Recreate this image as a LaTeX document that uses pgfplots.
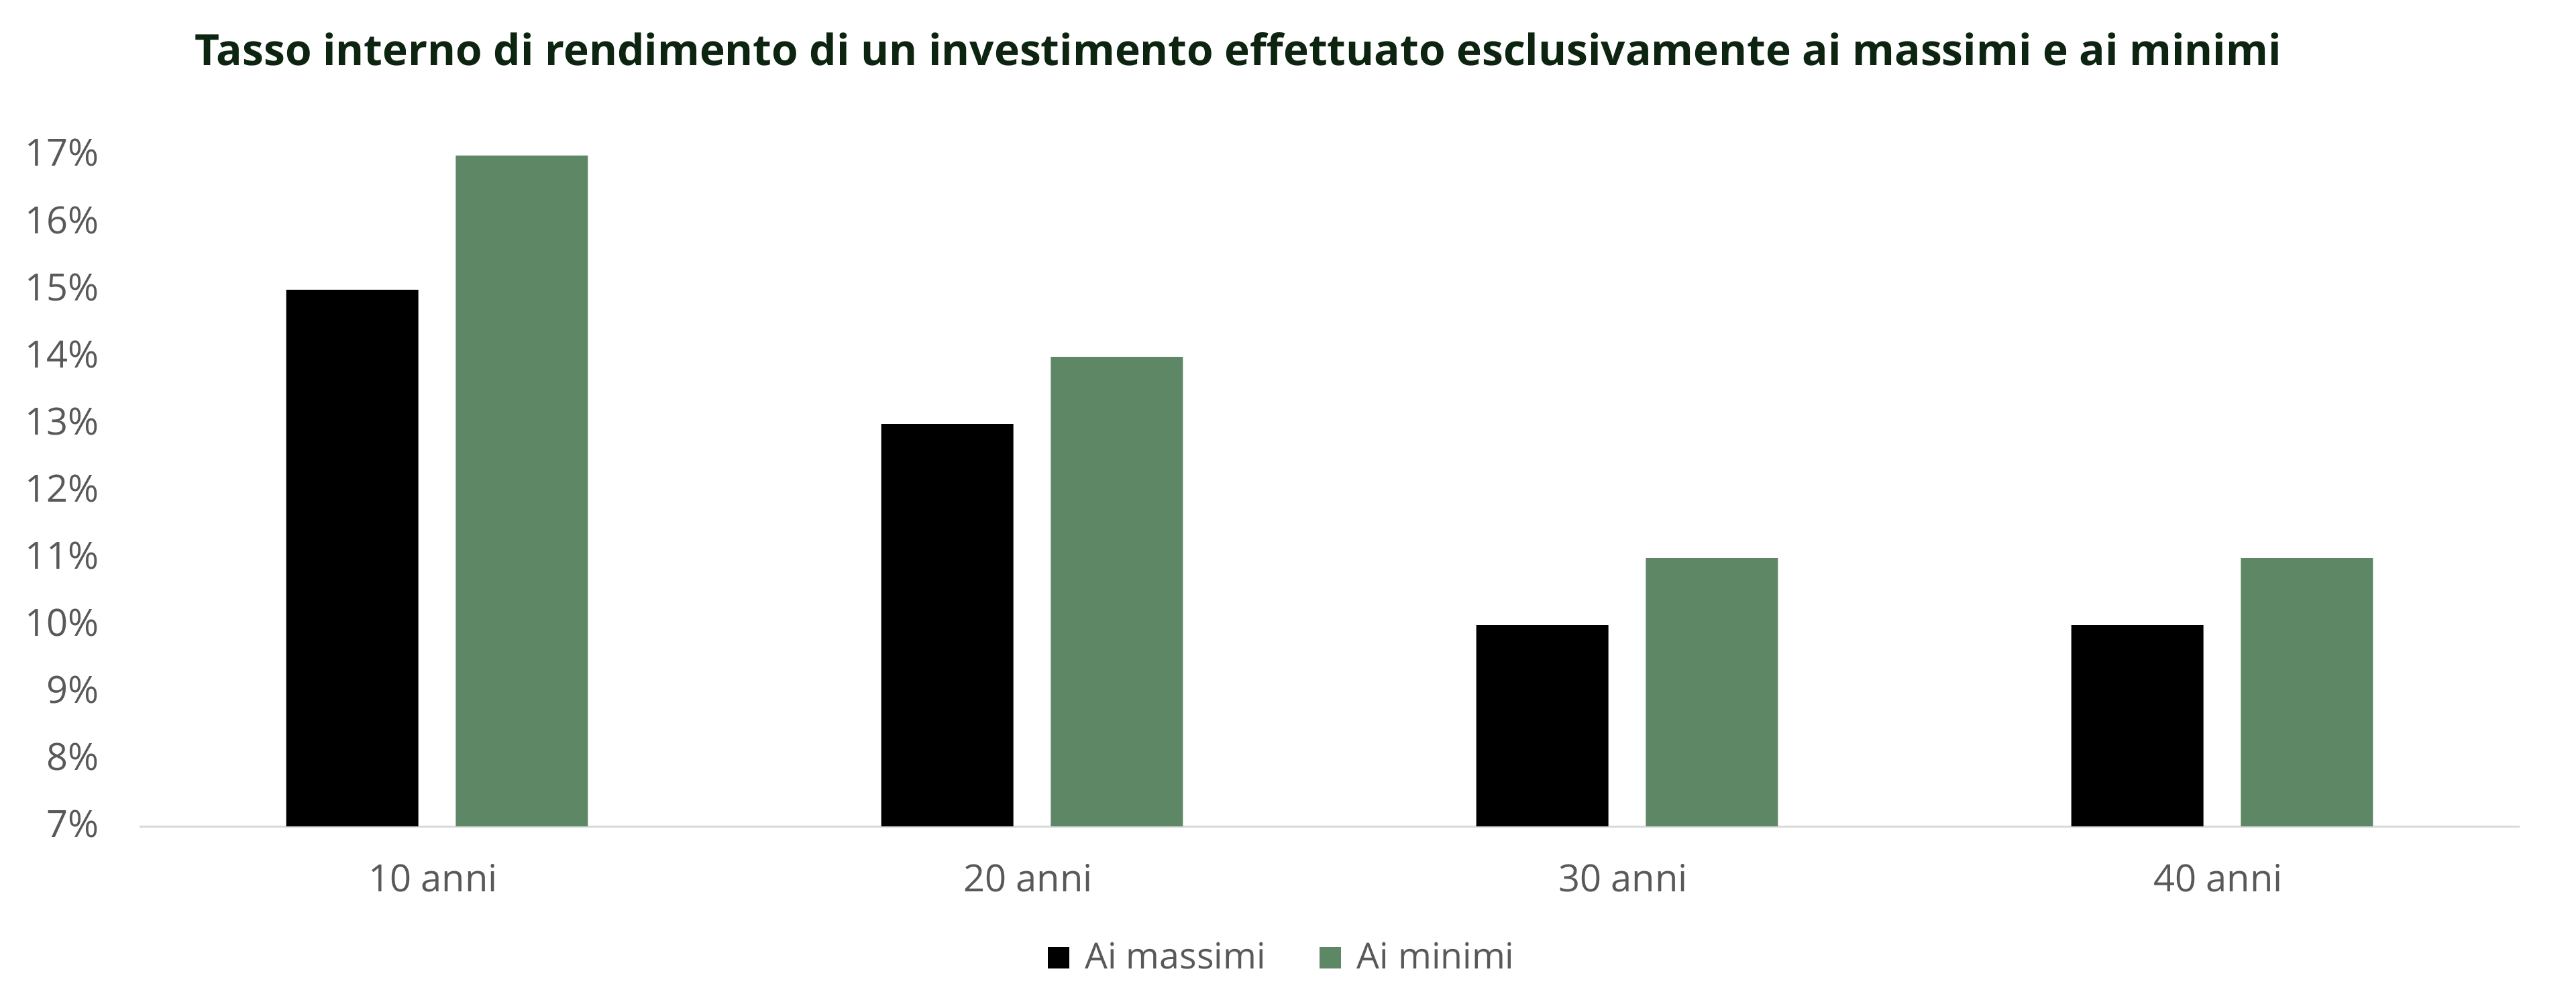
\documentclass[border=0pt]{standalone}
\usepackage{fontspec}
\setmainfont{Open Sans}
\usepackage{pgfplots}
\pgfplotsset{compat=1.18}
\definecolor{bargreen}{RGB}{94,135,102}
\definecolor{titlecol}{RGB}{12,36,16}
\definecolor{tickcol}{RGB}{89,89,89}
\definecolor{axisgray}{RGB}{217,217,217}
\begin{document}
\begin{tikzpicture}
\useasboundingbox (-52pt,-64.5pt) rectangle (908pt,308pt);
\begin{axis}[
  at={(0,0)}, anchor=south west,
  scale only axis,
  width=887pt, height=250pt,
  xmin=-0.5, xmax=3.5,
  ymin=7, ymax=17,
  ytick={7,8,...,17},
  xtick={0,1,2,3},
  xticklabels={10 anni,20 anni,30 anni,40 anni},
  /pgf/number format/assume math mode=true,
  yticklabel={\pgfmathprintnumber{\tick}\%},
  axis lines*=left,
  axis line style={-},
  x axis line style={draw=axisgray, line width=0.75pt},
  y axis line style={draw=none},
  tick style={draw=none},
  major tick length=0pt,
  ticklabel style={font=\fontsize{14}{16}\selectfont, text=tickcol, inner sep=0pt},
  yticklabel style={anchor=base east, xshift=-15pt, yshift=-4pt},
  xticklabel style={anchor=base, yshift=-24.25pt, xshift=-1.5pt},
  ybar, bar width=49.25pt,
  clip=false,
  legend columns=2,
  legend style={draw=none, at={(0.4807,-0.196)}, anchor=center,
    font=\fontsize{13.4}{16}\selectfont, text=tickcol,
    /tikz/every odd column/.append style={column sep=4pt},
    /tikz/every even column/.append style={column sep=18pt},
    inner sep=0pt},
  legend image code/.code={\fill[#1] (0pt,-4pt) rectangle (8pt,4pt);},
]
\addplot[fill=black, draw=none, bar shift=-31.6pt] coordinates {(0,15) (1,13) (2,10) (3,10)};
\addlegendentry{Ai massimi}
\addplot[fill=bargreen, draw=none, bar shift=31.6pt] coordinates {(0,17) (1,14) (2,11) (3,11)};
\addlegendentry{Ai minimi}
\end{axis}
\node[anchor=base, font=\fontsize{16}{19}\selectfont\bfseries, text=titlecol] at (409.5pt,283.5pt) {Tasso interno di rendimento di un investimento effettuato esclusivamente ai massimi e ai minimi};
\end{tikzpicture}
\end{document}
